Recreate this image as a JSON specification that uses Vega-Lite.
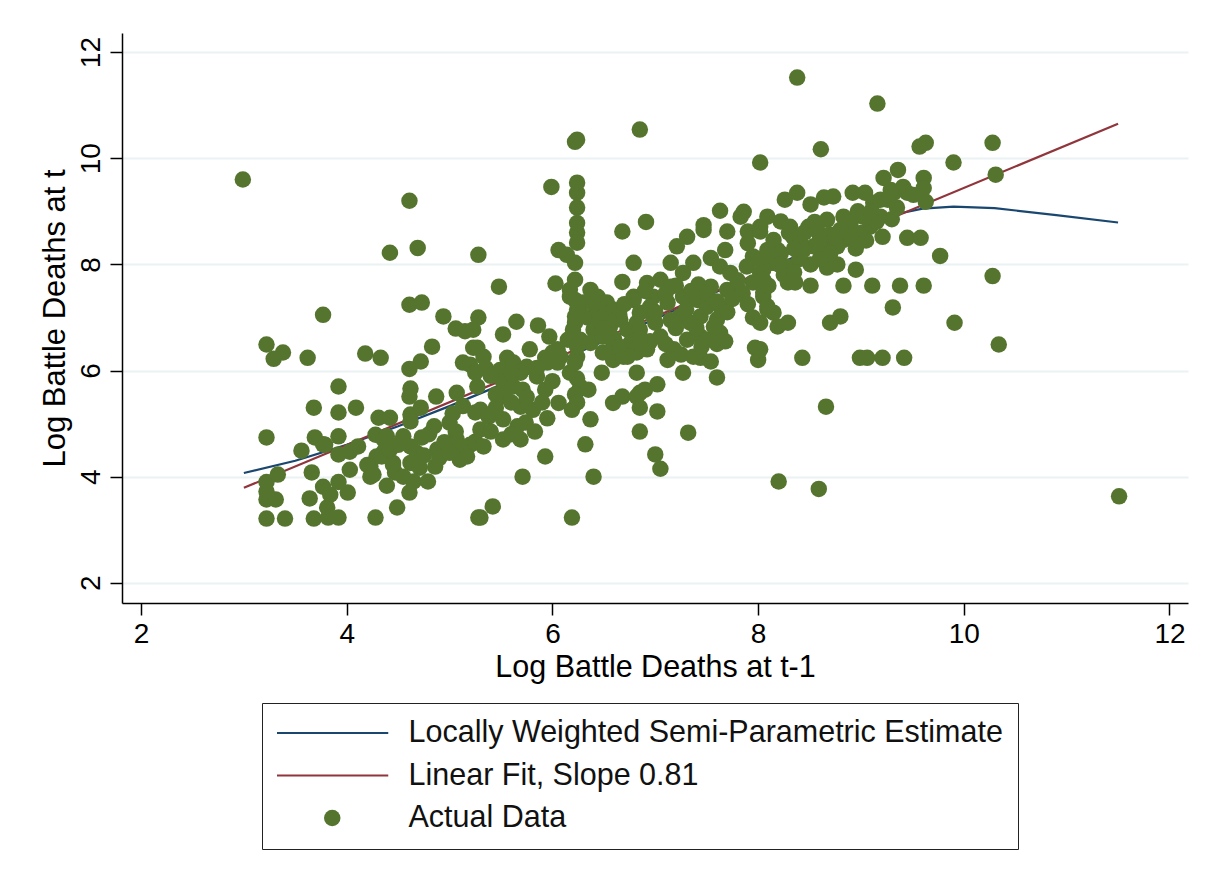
{
"$schema": "https://vega.github.io/schema/vega-lite/v6.json",
"width": 1066, "height": 570,
"autosize": {"type": "none"},
"padding": {"left": 122, "top": 33, "right": 30, "bottom": 285},
"background": "white",
"config": {"view": {"stroke": null}, "font": "Liberation Sans"},
"datasets": {
"lowess": [
{"x":3.0,"y":4.07,"s":"Locally Weighted Semi-Parametric Estimate"},
{"x":3.5,"y":4.3,"s":"Locally Weighted Semi-Parametric Estimate"},
{"x":4.0,"y":4.6,"s":"Locally Weighted Semi-Parametric Estimate"},
{"x":4.5,"y":4.95,"s":"Locally Weighted Semi-Parametric Estimate"},
{"x":5.0,"y":5.33,"s":"Locally Weighted Semi-Parametric Estimate"},
{"x":5.5,"y":5.73,"s":"Locally Weighted Semi-Parametric Estimate"},
{"x":6.0,"y":6.13,"s":"Locally Weighted Semi-Parametric Estimate"},
{"x":6.5,"y":6.55,"s":"Locally Weighted Semi-Parametric Estimate"},
{"x":7.0,"y":6.97,"s":"Locally Weighted Semi-Parametric Estimate"},
{"x":7.5,"y":7.4,"s":"Locally Weighted Semi-Parametric Estimate"},
{"x":8.0,"y":7.83,"s":"Locally Weighted Semi-Parametric Estimate"},
{"x":8.5,"y":8.27,"s":"Locally Weighted Semi-Parametric Estimate"},
{"x":9.0,"y":8.7,"s":"Locally Weighted Semi-Parametric Estimate"},
{"x":9.3,"y":8.93,"s":"Locally Weighted Semi-Parametric Estimate"},
{"x":9.6,"y":9.05,"s":"Locally Weighted Semi-Parametric Estimate"},
{"x":9.9,"y":9.09,"s":"Locally Weighted Semi-Parametric Estimate"},
{"x":10.3,"y":9.06,"s":"Locally Weighted Semi-Parametric Estimate"},
{"x":10.9,"y":8.93,"s":"Locally Weighted Semi-Parametric Estimate"},
{"x":11.5,"y":8.79,"s":"Locally Weighted Semi-Parametric Estimate"}
],
"linear": [
{"x":3.0,"y":3.79,"s":"Linear Fit, Slope 0.81"},
{"x":11.5,"y":10.65,"s":"Linear Fit, Slope 0.81"}
],
"points": [
{"x":2.99,"y":9.6,"s":"Actual Data"},{"x":3.22,"y":6.49,"s":"Actual Data"},{"x":3.29,"y":6.22,"s":"Actual Data"},{"x":3.38,"y":6.34,"s":"Actual Data"},{"x":3.22,"y":4.74,"s":"Actual Data"},{"x":3.22,"y":3.21,"s":"Actual Data"},{"x":3.22,"y":3.9,"s":"Actual Data"},{"x":3.22,"y":3.72,"s":"Actual Data"},{"x":3.22,"y":3.57,"s":"Actual Data"},{"x":3.31,"y":3.57,"s":"Actual Data"},{"x":3.4,"y":3.21,"s":"Actual Data"},{"x":3.33,"y":4.04,"s":"Actual Data"},{"x":3.62,"y":6.24,"s":"Actual Data"},{"x":3.77,"y":7.05,"s":"Actual Data"},{"x":3.68,"y":3.21,"s":"Actual Data"},{"x":3.64,"y":3.59,"s":"Actual Data"},{"x":3.66,"y":4.08,"s":"Actual Data"},{"x":3.68,"y":5.3,"s":"Actual Data"},{"x":3.92,"y":5.7,"s":"Actual Data"},{"x":3.92,"y":5.21,"s":"Actual Data"},{"x":4.09,"y":5.3,"s":"Actual Data"},{"x":4.18,"y":6.32,"s":"Actual Data"},{"x":4.33,"y":6.24,"s":"Actual Data"},{"x":4.31,"y":5.11,"s":"Actual Data"},{"x":4.42,"y":5.11,"s":"Actual Data"},{"x":3.56,"y":4.49,"s":"Actual Data"},{"x":3.69,"y":4.74,"s":"Actual Data"},{"x":3.77,"y":4.61,"s":"Actual Data"},{"x":3.92,"y":4.76,"s":"Actual Data"},{"x":3.92,"y":4.42,"s":"Actual Data"},{"x":4.03,"y":4.47,"s":"Actual Data"},{"x":4.11,"y":4.57,"s":"Actual Data"},{"x":4.03,"y":4.13,"s":"Actual Data"},{"x":4.23,"y":4.19,"s":"Actual Data"},{"x":4.23,"y":4.0,"s":"Actual Data"},{"x":4.28,"y":4.79,"s":"Actual Data"},{"x":4.36,"y":4.7,"s":"Actual Data"},{"x":4.36,"y":4.47,"s":"Actual Data"},{"x":4.29,"y":4.38,"s":"Actual Data"},{"x":4.45,"y":4.26,"s":"Actual Data"},{"x":3.77,"y":3.81,"s":"Actual Data"},{"x":3.84,"y":3.66,"s":"Actual Data"},{"x":3.81,"y":3.42,"s":"Actual Data"},{"x":3.82,"y":3.23,"s":"Actual Data"},{"x":3.92,"y":3.23,"s":"Actual Data"},{"x":3.92,"y":3.9,"s":"Actual Data"},{"x":4.01,"y":3.7,"s":"Actual Data"},{"x":4.28,"y":3.23,"s":"Actual Data"},{"x":4.39,"y":3.83,"s":"Actual Data"},{"x":4.49,"y":3.42,"s":"Actual Data"},{"x":4.47,"y":4.08,"s":"Actual Data"},{"x":4.61,"y":9.2,"s":"Actual Data"},{"x":4.42,"y":8.22,"s":"Actual Data"},{"x":4.69,"y":8.31,"s":"Actual Data"},{"x":5.28,"y":8.18,"s":"Actual Data"},{"x":4.61,"y":7.24,"s":"Actual Data"},{"x":4.73,"y":7.28,"s":"Actual Data"},{"x":4.94,"y":7.02,"s":"Actual Data"},{"x":5.06,"y":6.79,"s":"Actual Data"},{"x":5.15,"y":6.74,"s":"Actual Data"},{"x":5.28,"y":7.0,"s":"Actual Data"},{"x":4.83,"y":6.45,"s":"Actual Data"},{"x":4.72,"y":6.17,"s":"Actual Data"},{"x":4.61,"y":6.03,"s":"Actual Data"},{"x":5.23,"y":6.43,"s":"Actual Data"},{"x":5.13,"y":6.15,"s":"Actual Data"},{"x":5.2,"y":6.11,"s":"Actual Data"},{"x":4.62,"y":5.66,"s":"Actual Data"},{"x":4.61,"y":5.51,"s":"Actual Data"},{"x":4.87,"y":5.51,"s":"Actual Data"},{"x":5.07,"y":5.58,"s":"Actual Data"},{"x":5.27,"y":5.7,"s":"Actual Data"},{"x":4.62,"y":5.17,"s":"Actual Data"},{"x":4.72,"y":5.3,"s":"Actual Data"},{"x":4.62,"y":5.04,"s":"Actual Data"},{"x":4.85,"y":4.95,"s":"Actual Data"},{"x":5.03,"y":5.19,"s":"Actual Data"},{"x":5.13,"y":5.33,"s":"Actual Data"},{"x":5.25,"y":5.21,"s":"Actual Data"},{"x":5.06,"y":4.85,"s":"Actual Data"},{"x":3.79,"y":4.6,"s":"Actual Data"},{"x":4.39,"y":4.76,"s":"Actual Data"},{"x":4.34,"y":4.38,"s":"Actual Data"},{"x":4.2,"y":4.22,"s":"Actual Data"},{"x":4.26,"y":4.04,"s":"Actual Data"},{"x":4.42,"y":4.51,"s":"Actual Data"},{"x":4.45,"y":4.22,"s":"Actual Data"},{"x":4.55,"y":4.76,"s":"Actual Data"},{"x":4.62,"y":4.57,"s":"Actual Data"},{"x":4.73,"y":4.74,"s":"Actual Data"},{"x":4.68,"y":4.45,"s":"Actual Data"},{"x":4.88,"y":4.51,"s":"Actual Data"},{"x":4.62,"y":4.26,"s":"Actual Data"},{"x":4.71,"y":4.17,"s":"Actual Data"},{"x":4.86,"y":4.19,"s":"Actual Data"},{"x":4.55,"y":4.0,"s":"Actual Data"},{"x":4.65,"y":3.91,"s":"Actual Data"},{"x":4.79,"y":3.91,"s":"Actual Data"},{"x":4.61,"y":3.7,"s":"Actual Data"},{"x":5.0,"y":5.02,"s":"Actual Data"},{"x":5.07,"y":4.7,"s":"Actual Data"},{"x":5.1,"y":4.57,"s":"Actual Data"},{"x":5.2,"y":4.6,"s":"Actual Data"},{"x":5.1,"y":4.32,"s":"Actual Data"},{"x":5.17,"y":4.38,"s":"Actual Data"},{"x":5.28,"y":3.23,"s":"Actual Data"},{"x":5.25,"y":4.66,"s":"Actual Data"},
{"x":5.48,"y":7.58,"s":"Actual Data"},{"x":5.65,"y":6.92,"s":"Actual Data"},{"x":5.52,"y":6.68,"s":"Actual Data"},{"x":5.86,"y":6.85,"s":"Actual Data"},{"x":5.97,"y":6.64,"s":"Actual Data"},{"x":5.78,"y":6.4,"s":"Actual Data"},{"x":6.03,"y":7.64,"s":"Actual Data"},{"x":6.06,"y":8.27,"s":"Actual Data"},{"x":6.14,"y":8.18,"s":"Actual Data"},{"x":6.22,"y":8.03,"s":"Actual Data"},{"x":6.24,"y":8.6,"s":"Actual Data"},{"x":6.24,"y":8.41,"s":"Actual Data"},{"x":6.68,"y":8.62,"s":"Actual Data"},{"x":6.79,"y":8.03,"s":"Actual Data"},{"x":6.68,"y":7.67,"s":"Actual Data"},{"x":6.22,"y":7.71,"s":"Actual Data"},{"x":6.17,"y":7.52,"s":"Actual Data"},{"x":5.23,"y":6.77,"s":"Actual Data"},{"x":5.27,"y":6.43,"s":"Actual Data"},{"x":5.33,"y":6.26,"s":"Actual Data"},{"x":5.25,"y":5.96,"s":"Actual Data"},{"x":5.35,"y":6.05,"s":"Actual Data"},{"x":5.56,"y":6.24,"s":"Actual Data"},{"x":5.49,"y":6.01,"s":"Actual Data"},{"x":5.62,"y":6.15,"s":"Actual Data"},{"x":5.69,"y":5.96,"s":"Actual Data"},{"x":5.75,"y":6.07,"s":"Actual Data"},{"x":5.52,"y":5.79,"s":"Actual Data"},{"x":5.62,"y":5.7,"s":"Actual Data"},{"x":5.71,"y":5.64,"s":"Actual Data"},{"x":5.85,"y":5.89,"s":"Actual Data"},{"x":5.93,"y":5.64,"s":"Actual Data"},{"x":5.54,"y":5.51,"s":"Actual Data"},{"x":5.93,"y":6.24,"s":"Actual Data"},{"x":6.05,"y":6.4,"s":"Actual Data"},{"x":6.05,"y":6.15,"s":"Actual Data"},{"x":6.15,"y":6.58,"s":"Actual Data"},{"x":6.24,"y":6.26,"s":"Actual Data"},{"x":6.17,"y":5.96,"s":"Actual Data"},{"x":6.27,"y":5.7,"s":"Actual Data"},{"x":6.35,"y":5.64,"s":"Actual Data"},{"x":6.06,"y":5.39,"s":"Actual Data"},{"x":6.19,"y":5.26,"s":"Actual Data"},{"x":6.48,"y":5.96,"s":"Actual Data"},{"x":6.37,"y":5.08,"s":"Actual Data"},{"x":6.32,"y":4.61,"s":"Actual Data"},{"x":5.93,"y":4.38,"s":"Actual Data"},{"x":6.4,"y":4.0,"s":"Actual Data"},{"x":5.71,"y":4.0,"s":"Actual Data"},{"x":5.42,"y":3.44,"s":"Actual Data"},{"x":5.3,"y":3.23,"s":"Actual Data"},{"x":6.19,"y":3.23,"s":"Actual Data"},{"x":5.3,"y":5.26,"s":"Actual Data"},{"x":5.38,"y":5.13,"s":"Actual Data"},{"x":5.3,"y":4.89,"s":"Actual Data"},{"x":5.33,"y":4.57,"s":"Actual Data"},{"x":5.52,"y":5.08,"s":"Actual Data"},{"x":5.52,"y":4.7,"s":"Actual Data"},{"x":5.69,"y":5.32,"s":"Actual Data"},{"x":5.81,"y":5.26,"s":"Actual Data"},{"x":5.66,"y":4.95,"s":"Actual Data"},{"x":5.74,"y":5.02,"s":"Actual Data"},{"x":5.83,"y":4.85,"s":"Actual Data"},{"x":5.69,"y":4.7,"s":"Actual Data"},{"x":6.59,"y":5.39,"s":"Actual Data"},{"x":6.68,"y":5.51,"s":"Actual Data"},{"x":6.82,"y":5.96,"s":"Actual Data"},{"x":6.82,"y":5.51,"s":"Actual Data"},{"x":6.85,"y":4.85,"s":"Actual Data"},{"x":6.17,"y":7.39,"s":"Actual Data"},{"x":6.3,"y":7.28,"s":"Actual Data"},{"x":6.37,"y":7.52,"s":"Actual Data"},{"x":6.44,"y":7.39,"s":"Actual Data"},{"x":6.53,"y":7.28,"s":"Actual Data"},{"x":6.59,"y":7.15,"s":"Actual Data"},{"x":6.22,"y":7.02,"s":"Actual Data"},{"x":6.34,"y":7.0,"s":"Actual Data"},{"x":6.46,"y":7.0,"s":"Actual Data"},{"x":6.2,"y":6.77,"s":"Actual Data"},{"x":6.27,"y":6.58,"s":"Actual Data"},{"x":6.4,"y":6.77,"s":"Actual Data"},{"x":6.56,"y":6.83,"s":"Actual Data"},{"x":6.66,"y":6.96,"s":"Actual Data"},{"x":6.73,"y":6.77,"s":"Actual Data"},{"x":6.79,"y":7.39,"s":"Actual Data"},{"x":6.82,"y":6.9,"s":"Actual Data"},{"x":6.0,"y":6.34,"s":"Actual Data"},{"x":5.95,"y":6.15,"s":"Actual Data"},{"x":6.08,"y":6.26,"s":"Actual Data"},{"x":6.49,"y":6.34,"s":"Actual Data"},{"x":6.59,"y":6.2,"s":"Actual Data"},{"x":6.69,"y":6.26,"s":"Actual Data"},{"x":6.82,"y":6.34,"s":"Actual Data"},{"x":6.76,"y":6.52,"s":"Actual Data"},{"x":6.59,"y":6.45,"s":"Actual Data"},{"x":6.37,"y":6.52,"s":"Actual Data"},{"x":6.49,"y":6.64,"s":"Actual Data"},
{"x":7.31,"y":8.52,"s":"Actual Data"},{"x":7.21,"y":8.34,"s":"Actual Data"},{"x":7.47,"y":8.65,"s":"Actual Data"},{"x":7.7,"y":8.62,"s":"Actual Data"},{"x":7.9,"y":8.62,"s":"Actual Data"},{"x":8.02,"y":8.62,"s":"Actual Data"},{"x":7.15,"y":8.03,"s":"Actual Data"},{"x":7.37,"y":8.03,"s":"Actual Data"},{"x":7.68,"y":8.27,"s":"Actual Data"},{"x":7.54,"y":8.12,"s":"Actual Data"},{"x":7.63,"y":7.96,"s":"Actual Data"},{"x":7.27,"y":7.84,"s":"Actual Data"},{"x":7.42,"y":7.62,"s":"Actual Data"},{"x":7.95,"y":8.15,"s":"Actual Data"},{"x":8.09,"y":8.27,"s":"Actual Data"},{"x":8.19,"y":8.27,"s":"Actual Data"},{"x":7.89,"y":7.96,"s":"Actual Data"},{"x":8.02,"y":7.84,"s":"Actual Data"},{"x":8.12,"y":8.03,"s":"Actual Data"},{"x":7.73,"y":7.84,"s":"Actual Data"},{"x":7.8,"y":7.56,"s":"Actual Data"},{"x":7.7,"y":7.52,"s":"Actual Data"},{"x":7.95,"y":7.66,"s":"Actual Data"},{"x":8.05,"y":7.39,"s":"Actual Data"},{"x":8.09,"y":7.15,"s":"Actual Data"},{"x":7.63,"y":7.21,"s":"Actual Data"},{"x":7.6,"y":6.96,"s":"Actual Data"},{"x":7.95,"y":7.0,"s":"Actual Data"},{"x":8.02,"y":6.9,"s":"Actual Data"},{"x":8.15,"y":7.09,"s":"Actual Data"},{"x":8.19,"y":6.83,"s":"Actual Data"},{"x":7.63,"y":6.71,"s":"Actual Data"},{"x":7.68,"y":6.55,"s":"Actual Data"},{"x":7.97,"y":6.43,"s":"Actual Data"},{"x":8.0,"y":6.2,"s":"Actual Data"},{"x":7.6,"y":5.87,"s":"Actual Data"},{"x":7.27,"y":5.96,"s":"Actual Data"},{"x":7.02,"y":5.74,"s":"Actual Data"},{"x":6.85,"y":5.58,"s":"Actual Data"},{"x":6.85,"y":5.3,"s":"Actual Data"},{"x":7.02,"y":5.23,"s":"Actual Data"},{"x":7.32,"y":4.83,"s":"Actual Data"},{"x":7.0,"y":4.42,"s":"Actual Data"},{"x":7.05,"y":4.15,"s":"Actual Data"},{"x":8.2,"y":3.91,"s":"Actual Data"},{"x":6.79,"y":7.33,"s":"Actual Data"},{"x":6.92,"y":7.65,"s":"Actual Data"},{"x":7.05,"y":7.71,"s":"Actual Data"},{"x":7.15,"y":7.58,"s":"Actual Data"},{"x":6.98,"y":7.39,"s":"Actual Data"},{"x":7.12,"y":7.28,"s":"Actual Data"},{"x":7.27,"y":7.39,"s":"Actual Data"},{"x":7.41,"y":7.33,"s":"Actual Data"},{"x":6.85,"y":7.09,"s":"Actual Data"},{"x":6.98,"y":7.02,"s":"Actual Data"},{"x":7.24,"y":7.02,"s":"Actual Data"},{"x":7.34,"y":6.9,"s":"Actual Data"},{"x":7.44,"y":7.02,"s":"Actual Data"},{"x":6.85,"y":6.77,"s":"Actual Data"},{"x":7.05,"y":6.64,"s":"Actual Data"},{"x":6.92,"y":6.4,"s":"Actual Data"},{"x":6.73,"y":6.26,"s":"Actual Data"},{"x":7.18,"y":6.4,"s":"Actual Data"},{"x":7.31,"y":6.58,"s":"Actual Data"},{"x":7.44,"y":6.64,"s":"Actual Data"},{"x":7.51,"y":6.58,"s":"Actual Data"},{"x":7.44,"y":6.24,"s":"Actual Data"},{"x":7.54,"y":6.17,"s":"Actual Data"},{"x":7.12,"y":6.2,"s":"Actual Data"},{"x":7.37,"y":6.26,"s":"Actual Data"},{"x":7.57,"y":6.83,"s":"Actual Data"},{"x":7.54,"y":7.58,"s":"Actual Data"},
{"x":8.61,"y":10.17,"s":"Actual Data"},{"x":8.02,"y":9.92,"s":"Actual Data"},{"x":9.36,"y":9.78,"s":"Actual Data"},{"x":9.22,"y":9.63,"s":"Actual Data"},{"x":8.38,"y":9.35,"s":"Actual Data"},{"x":8.26,"y":9.22,"s":"Actual Data"},{"x":8.92,"y":9.35,"s":"Actual Data"},{"x":9.04,"y":9.35,"s":"Actual Data"},{"x":8.64,"y":9.26,"s":"Actual Data"},{"x":8.73,"y":9.28,"s":"Actual Data"},{"x":8.51,"y":9.13,"s":"Actual Data"},{"x":9.12,"y":9.16,"s":"Actual Data"},{"x":9.19,"y":9.22,"s":"Actual Data"},{"x":9.32,"y":9.35,"s":"Actual Data"},{"x":9.41,"y":9.46,"s":"Actual Data"},{"x":9.35,"y":9.07,"s":"Actual Data"},{"x":8.97,"y":9.0,"s":"Actual Data"},{"x":9.02,"y":8.9,"s":"Actual Data"},{"x":8.83,"y":8.9,"s":"Actual Data"},{"x":8.9,"y":8.79,"s":"Actual Data"},{"x":8.67,"y":8.84,"s":"Actual Data"},{"x":8.49,"y":8.71,"s":"Actual Data"},{"x":8.59,"y":8.59,"s":"Actual Data"},{"x":8.7,"y":8.56,"s":"Actual Data"},{"x":8.22,"y":8.81,"s":"Actual Data"},{"x":8.31,"y":8.71,"s":"Actual Data"},{"x":8.09,"y":8.9,"s":"Actual Data"},{"x":8.02,"y":8.71,"s":"Actual Data"},{"x":9.09,"y":8.71,"s":"Actual Data"},{"x":9.0,"y":8.59,"s":"Actual Data"},{"x":9.21,"y":8.52,"s":"Actual Data"},{"x":9.45,"y":8.5,"s":"Actual Data"},{"x":8.83,"y":8.46,"s":"Actual Data"},{"x":8.77,"y":8.34,"s":"Actual Data"},{"x":8.64,"y":8.27,"s":"Actual Data"},{"x":8.54,"y":8.34,"s":"Actual Data"},{"x":8.41,"y":8.43,"s":"Actual Data"},{"x":8.44,"y":8.27,"s":"Actual Data"},{"x":8.34,"y":8.52,"s":"Actual Data"},{"x":8.15,"y":8.46,"s":"Actual Data"},{"x":8.22,"y":8.21,"s":"Actual Data"},{"x":8.15,"y":8.03,"s":"Actual Data"},{"x":8.28,"y":7.96,"s":"Actual Data"},{"x":8.05,"y":7.9,"s":"Actual Data"},{"x":8.51,"y":8.0,"s":"Actual Data"},{"x":8.67,"y":7.94,"s":"Actual Data"},{"x":8.77,"y":8.0,"s":"Actual Data"},{"x":8.95,"y":7.9,"s":"Actual Data"},{"x":8.29,"y":7.66,"s":"Actual Data"},{"x":8.36,"y":7.66,"s":"Actual Data"},{"x":8.51,"y":7.6,"s":"Actual Data"},{"x":8.83,"y":7.6,"s":"Actual Data"},{"x":9.11,"y":7.6,"s":"Actual Data"},{"x":9.38,"y":7.6,"s":"Actual Data"},{"x":8.05,"y":7.71,"s":"Actual Data"},{"x":8.05,"y":7.47,"s":"Actual Data"},{"x":8.09,"y":7.21,"s":"Actual Data"},{"x":8.29,"y":6.9,"s":"Actual Data"},{"x":8.7,"y":6.9,"s":"Actual Data"},{"x":8.8,"y":7.02,"s":"Actual Data"},{"x":9.31,"y":7.19,"s":"Actual Data"},{"x":8.02,"y":6.4,"s":"Actual Data"},{"x":8.43,"y":6.24,"s":"Actual Data"},{"x":8.99,"y":6.24,"s":"Actual Data"},{"x":9.06,"y":6.24,"s":"Actual Data"},{"x":9.21,"y":6.24,"s":"Actual Data"},{"x":9.42,"y":6.24,"s":"Actual Data"},{"x":8.66,"y":5.32,"s":"Actual Data"},
{"x":9.9,"y":9.92,"s":"Actual Data"},{"x":10.31,"y":9.69,"s":"Actual Data"},{"x":9.57,"y":10.22,"s":"Actual Data"},{"x":9.63,"y":10.29,"s":"Actual Data"},{"x":10.28,"y":10.29,"s":"Actual Data"},{"x":9.61,"y":9.63,"s":"Actual Data"},{"x":9.61,"y":9.44,"s":"Actual Data"},{"x":9.63,"y":9.18,"s":"Actual Data"},{"x":9.45,"y":9.35,"s":"Actual Data"},{"x":9.51,"y":9.31,"s":"Actual Data"},{"x":9.29,"y":9.4,"s":"Actual Data"},{"x":9.26,"y":9.22,"s":"Actual Data"},{"x":9.19,"y":8.9,"s":"Actual Data"},{"x":9.58,"y":8.5,"s":"Actual Data"},{"x":9.77,"y":8.16,"s":"Actual Data"},{"x":10.28,"y":7.78,"s":"Actual Data"},{"x":9.61,"y":7.6,"s":"Actual Data"},{"x":9.91,"y":6.9,"s":"Actual Data"},{"x":10.34,"y":6.49,"s":"Actual Data"},{"x":11.51,"y":3.63,"s":"Actual Data"},{"x":8.59,"y":3.77,"s":"Actual Data"},{"x":6.9,"y":5.64,"s":"Actual Data"},{"x":8.38,"y":11.52,"s":"Actual Data"},{"x":6.85,"y":10.54,"s":"Actual Data"},{"x":6.22,"y":10.31,"s":"Actual Data"},{"x":6.24,"y":10.35,"s":"Actual Data"},{"x":5.99,"y":9.46,"s":"Actual Data"},{"x":6.24,"y":9.54,"s":"Actual Data"},{"x":6.24,"y":9.35,"s":"Actual Data"},{"x":6.24,"y":9.07,"s":"Actual Data"},{"x":6.24,"y":8.78,"s":"Actual Data"},{"x":6.91,"y":8.8,"s":"Actual Data"},{"x":7.63,"y":9.01,"s":"Actual Data"},{"x":7.86,"y":8.99,"s":"Actual Data"},{"x":7.83,"y":8.9,"s":"Actual Data"},{"x":7.47,"y":8.74,"s":"Actual Data"},{"x":9.16,"y":11.03,"s":"Actual Data"},
{"x":6.22,"y":7.33,"s":"Actual Data"},{"x":6.24,"y":7.15,"s":"Actual Data"},{"x":6.22,"y":6.9,"s":"Actual Data"},{"x":6.24,"y":6.45,"s":"Actual Data"},{"x":6.22,"y":6.15,"s":"Actual Data"},{"x":6.24,"y":5.85,"s":"Actual Data"},{"x":6.22,"y":5.55,"s":"Actual Data"},{"x":6.24,"y":5.4,"s":"Actual Data"},
{"x":7.75,"y":7.35,"s":"Actual Data"},{"x":7.85,"y":7.45,"s":"Actual Data"},{"x":7.9,"y":7.25,"s":"Actual Data"},{"x":7.5,"y":7.2,"s":"Actual Data"},{"x":7.3,"y":7.15,"s":"Actual Data"},{"x":7.0,"y":6.9,"s":"Actual Data"},{"x":6.95,"y":7.2,"s":"Actual Data"},{"x":6.6,"y":6.6,"s":"Actual Data"},{"x":6.65,"y":7.05,"s":"Actual Data"},{"x":6.95,"y":6.55,"s":"Actual Data"},{"x":7.2,"y":6.8,"s":"Actual Data"},{"x":7.4,"y":6.8,"s":"Actual Data"},{"x":7.8,"y":7.7,"s":"Actual Data"},{"x":8.1,"y":7.6,"s":"Actual Data"},{"x":8.25,"y":7.8,"s":"Actual Data"},{"x":8.4,"y":8.1,"s":"Actual Data"},{"x":8.6,"y":8.45,"s":"Actual Data"},{"x":8.8,"y":8.65,"s":"Actual Data"},{"x":8.9,"y":8.5,"s":"Actual Data"},{"x":9.05,"y":8.45,"s":"Actual Data"},{"x":9.15,"y":8.8,"s":"Actual Data"},{"x":9.3,"y":8.85,"s":"Actual Data"},{"x":8.45,"y":8.6,"s":"Actual Data"},{"x":8.55,"y":8.8,"s":"Actual Data"},{"x":8.35,"y":8.3,"s":"Actual Data"},{"x":8.7,"y":8.2,"s":"Actual Data"},{"x":9.1,"y":9.0,"s":"Actual Data"},
{"x":6.45,"y":7.1,"s":"Actual Data"},{"x":6.55,"y":6.95,"s":"Actual Data"},{"x":6.7,"y":7.25,"s":"Actual Data"},{"x":6.9,"y":7.5,"s":"Actual Data"},{"x":7.1,"y":7.45,"s":"Actual Data"},{"x":7.2,"y":7.6,"s":"Actual Data"},{"x":7.35,"y":7.5,"s":"Actual Data"},{"x":7.5,"y":7.45,"s":"Actual Data"},{"x":7.0,"y":7.1,"s":"Actual Data"},{"x":7.15,"y":6.95,"s":"Actual Data"},{"x":6.85,"y":6.6,"s":"Actual Data"},{"x":7.1,"y":6.5,"s":"Actual Data"},{"x":7.25,"y":6.3,"s":"Actual Data"},{"x":6.65,"y":6.45,"s":"Actual Data"},{"x":6.5,"y":6.8,"s":"Actual Data"},{"x":6.4,"y":7.25,"s":"Actual Data"},{"x":7.6,"y":7.3,"s":"Actual Data"},{"x":7.7,"y":7.1,"s":"Actual Data"},{"x":7.45,"y":6.45,"s":"Actual Data"},{"x":7.6,"y":6.5,"s":"Actual Data"},
{"x":5.4,"y":5.9,"s":"Actual Data"},{"x":5.45,"y":5.55,"s":"Actual Data"},{"x":5.6,"y":5.4,"s":"Actual Data"},{"x":5.75,"y":5.5,"s":"Actual Data"},{"x":5.9,"y":5.4,"s":"Actual Data"},{"x":6.0,"y":5.8,"s":"Actual Data"},{"x":5.85,"y":6.05,"s":"Actual Data"},{"x":5.6,"y":5.95,"s":"Actual Data"},{"x":5.45,"y":5.3,"s":"Actual Data"},{"x":5.95,"y":5.1,"s":"Actual Data"},{"x":5.4,"y":4.85,"s":"Actual Data"},{"x":5.6,"y":4.8,"s":"Actual Data"},
{"x":4.5,"y":4.6,"s":"Actual Data"},{"x":4.8,"y":4.8,"s":"Actual Data"},{"x":4.95,"y":4.65,"s":"Actual Data"},{"x":4.9,"y":4.35,"s":"Actual Data"},{"x":5.0,"y":4.45,"s":"Actual Data"},{"x":4.75,"y":4.4,"s":"Actual Data"},
{"x":7.9,"y":8.4,"s":"Actual Data"},{"x":8.0,"y":8.1,"s":"Actual Data"},{"x":8.2,"y":8.0,"s":"Actual Data"},{"x":8.35,"y":7.85,"s":"Actual Data"},{"x":8.6,"y":8.1,"s":"Actual Data"},{"x":8.75,"y":8.5,"s":"Actual Data"},{"x":8.95,"y":8.3,"s":"Actual Data"},{"x":8.3,"y":8.6,"s":"Actual Data"}
]
},
"encoding": {
"x": {"field": "x", "type": "quantitative",
 "scale": {"domain": [1.815, 12.18], "nice": false, "zero": false},
 "axis": {"values": [2,4,6,8,10,12], "grid": false, "tickSize": 12, "tickColor": "#000", "tickWidth": 1.5, "domainColor": "#000", "domainWidth": 1.5, "labelFontSize": 28, "labelColor": "#000", "labelPadding": 5, "labelFlush": false, "labelFont": "Liberation Sans", "title": "Log Battle Deaths at t-1", "titleFont": "Liberation Sans", "titleFontSize": 30.5, "titleFontWeight": "normal", "titleColor": "#000", "titlePadding": 4}},
"y": {"field": "y", "type": "quantitative",
 "scale": {"domain": [1.62, 12.36], "nice": false, "zero": false},
 "axis": {"values": [2,4,6,8,10,12], "grid": true, "gridColor": "#eaf2f3", "gridWidth": 2, "tickSize": 12, "tickColor": "#000", "tickWidth": 1.5, "domainColor": "#000", "domainWidth": 1.5, "labelFontSize": 28, "labelColor": "#000", "labelAngle": -90, "labelAlign": "center", "labelBaseline": "alphabetic", "labelPadding": 11, "labelFont": "Liberation Sans", "title": "Log Battle Deaths at t", "titleFont": "Liberation Sans", "titleFontSize": 31, "titleFontWeight": "normal", "titleColor": "#000", "titlePadding": 6}}
},
"layer": [
{"data": {"name": "lowess"}, "mark": {"type": "line", "strokeWidth": 2.2},
 "encoding": {"color": {"field": "s", "type": "nominal",
  "scale": {"domain": ["Locally Weighted Semi-Parametric Estimate", "Linear Fit, Slope 0.81", "Actual Data"], "range": ["#1a476f", "#90353b", "#55752f"]},
  "legend": {"orient": "none", "legendX": 140, "legendY": 670, "direction": "vertical", "title": null, "strokeColor": "#222", "fillColor": "white", "padding": 15, "symbolSize": 12544, "symbolOffset": 40, "clipHeight": 30, "rowPadding": 11.5, "labelOffset": 61, "labelFontSize": 30.5, "labelFont": "Liberation Sans", "labelColor": "#111", "labelLimit": 1000, "symbolOpacity": 1, "symbolStrokeWidth": 2.2,
   "encode": {"symbols": {"update": {"size": {"signal": "datum.value === 'Actual Data' ? 272 : 12544"}, "stroke": {"scale": "color", "field": "value"}, "strokeWidth": {"signal": "datum.value === 'Actual Data' ? 0 : 2.2"}}}}}}}},
{"data": {"name": "linear"}, "mark": {"type": "line", "strokeWidth": 2.2},
 "encoding": {"color": {"field": "s", "type": "nominal"}}},
{"data": {"name": "points"}, "mark": {"type": "point", "filled": true, "opacity": 1, "size": 272, "strokeWidth": 0},
 "encoding": {"color": {"field": "s", "type": "nominal"},
  "shape": {"field": "s", "type": "nominal", "scale": {"domain": ["Locally Weighted Semi-Parametric Estimate", "Linear Fit, Slope 0.81", "Actual Data"], "range": ["stroke", "stroke", "circle"]},
  "legend": {"orient": "none", "legendX": 140, "legendY": 670, "direction": "vertical", "title": null, "strokeColor": "#222", "fillColor": "white", "padding": 15, "symbolSize": 12544, "symbolOffset": 40, "clipHeight": 30, "rowPadding": 11.5, "labelOffset": 61, "labelFontSize": 30.5, "labelFont": "Liberation Sans", "labelColor": "#111", "labelLimit": 1000, "symbolOpacity": 1, "symbolStrokeWidth": 2.2,
   "encode": {"symbols": {"update": {"size": {"signal": "datum.value === 'Actual Data' ? 272 : 12544"}, "stroke": {"scale": "color", "field": "value"}, "strokeWidth": {"signal": "datum.value === 'Actual Data' ? 0 : 2.2"}}}}}}}}
]
}
